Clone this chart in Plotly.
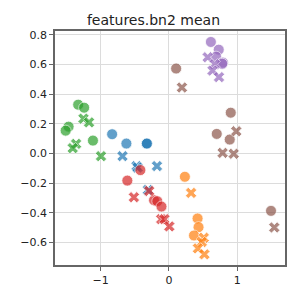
import plotly.graph_objects as go

title = "features.bn2 mean"

# group colors (tab10)
green = "#2ca02c"; blue = "#1f77b4"; red = "#d62728"
orange = "#ff7f0e"; brown = "#8c564b"; purple = "#9467bd"

# circles
green_o_x = [-1.33, -1.243, -1.471, -1.514, -1.114]
green_o_y = [0.329, 0.309, 0.181, 0.154, 0.087]
blue_o_x = [-0.833, -0.624, -0.324, -0.324]
blue_o_y = [0.130, 0.067, 0.067, 0.067]
red_o_x = [-0.419, -0.61, -0.219, -0.171, -0.11]
red_o_y = [-0.112, -0.183, -0.315, -0.322, -0.358]
orange_o_x = [0.233, 0.419, 0.433, 0.367]
orange_o_y = [-0.157, -0.438, -0.497, -0.553]
brown_o_x = [0.105, 0.905, 0.70, 0.89, 1.495]
brown_o_y = [0.573, 0.275, 0.132, 0.094, -0.387]
purple_o_x = [0.614, 0.729, 0.69, 0.79, 0.78]
purple_o_y = [0.752, 0.70, 0.653, 0.613, 0.605]

# crosses
green_x_x = [-1.253, -1.171, -1.361, -1.41, -0.996]
green_x_y = [0.235, 0.21, 0.065, 0.036, -0.018]
blue_x_x = [-0.681, -0.476, -0.46, -0.176, -0.31]
blue_x_y = [-0.018, -0.085, -0.095, -0.085, -0.246]
red_x_x = [-0.514, -0.29, -0.114, -0.067, 0.005]
red_x_y = [-0.295, -0.253, -0.443, -0.443, -0.492]
orange_x_x = [0.324, 0.51, 0.481, 0.424, 0.519]
orange_x_y = [-0.266, -0.568, -0.597, -0.64, -0.68]
brown_x_x = [0.19, 0.986, 0.786, 0.948, 1.543]
brown_x_y = [0.445, 0.15, 0.004, -0.002, -0.499]
purple_x_x = [0.567, 0.671, 0.638, 0.733]
purple_x_y = [0.649, 0.602, 0.559, 0.515]

x_ticks = [-1, 0, 1]
x_ticktext = ["−1", "0", "1"]
y_ticks = [-0.6, -0.4, -0.2, 0.0, 0.2, 0.4, 0.6, 0.8]
y_ticktext = ["−0.6", "−0.4", "−0.2", "0.0", "0.2", "0.4", "0.6", "0.8"]

groups = [
    (green, green_o_x, green_o_y, green_x_x, green_x_y),
    (blue, blue_o_x, blue_o_y, blue_x_x, blue_x_y),
    (red, red_o_x, red_o_y, red_x_x, red_x_y),
    (orange, orange_o_x, orange_o_y, orange_x_x, orange_x_y),
    (brown, brown_o_x, brown_o_y, brown_x_x, brown_x_y),
    (purple, purple_o_x, purple_o_y, purple_x_x, purple_x_y),
]

fig = go.Figure()
for col, ox, oy, xx, xy in groups:
    fig.add_trace(go.Scatter(x=ox, y=oy, mode="markers",
                             marker=dict(symbol="circle", size=11, color=col, opacity=0.7,
                                         line=dict(color="white", width=0.8)),
                             showlegend=False, hoverinfo="skip"))
    fig.add_trace(go.Scatter(x=xx, y=xy, mode="markers",
                             marker=dict(symbol="x", size=10, color=col, opacity=0.7,
                                         line=dict(color="white", width=0.8)),
                             showlegend=False, hoverinfo="skip"))

axis_common = dict(showgrid=True, gridcolor="#dcdcdc", gridwidth=1, zeroline=False,
                   showline=True, mirror=True, linecolor="#666666", linewidth=1.5,
                   ticks="outside", ticklen=4, tickcolor="#666666", tickwidth=1,
                   tickfont=dict(family="DejaVu Sans", size=11, color="#222222"))

# page body has an 8px default margin; the figure is sized to fit the 299px window
fig.update_layout(
    width=291, height=291,
    margin=dict(l=42, r=13, t=23, b=33),
    paper_bgcolor="white", plot_bgcolor="white",
    title=dict(text=title, x=0.5, xanchor="center", y=0.958, yanchor="middle",
               font=dict(family="DejaVu Sans", size=14, color="#222222")),
    xaxis=dict(range=[-1.67, 1.70], tickvals=x_ticks, ticktext=x_ticktext, **axis_common),
    yaxis=dict(range=[-0.752, 0.826], tickvals=y_ticks, ticktext=y_ticktext, **axis_common),
)

fig.write_html("out.html")
